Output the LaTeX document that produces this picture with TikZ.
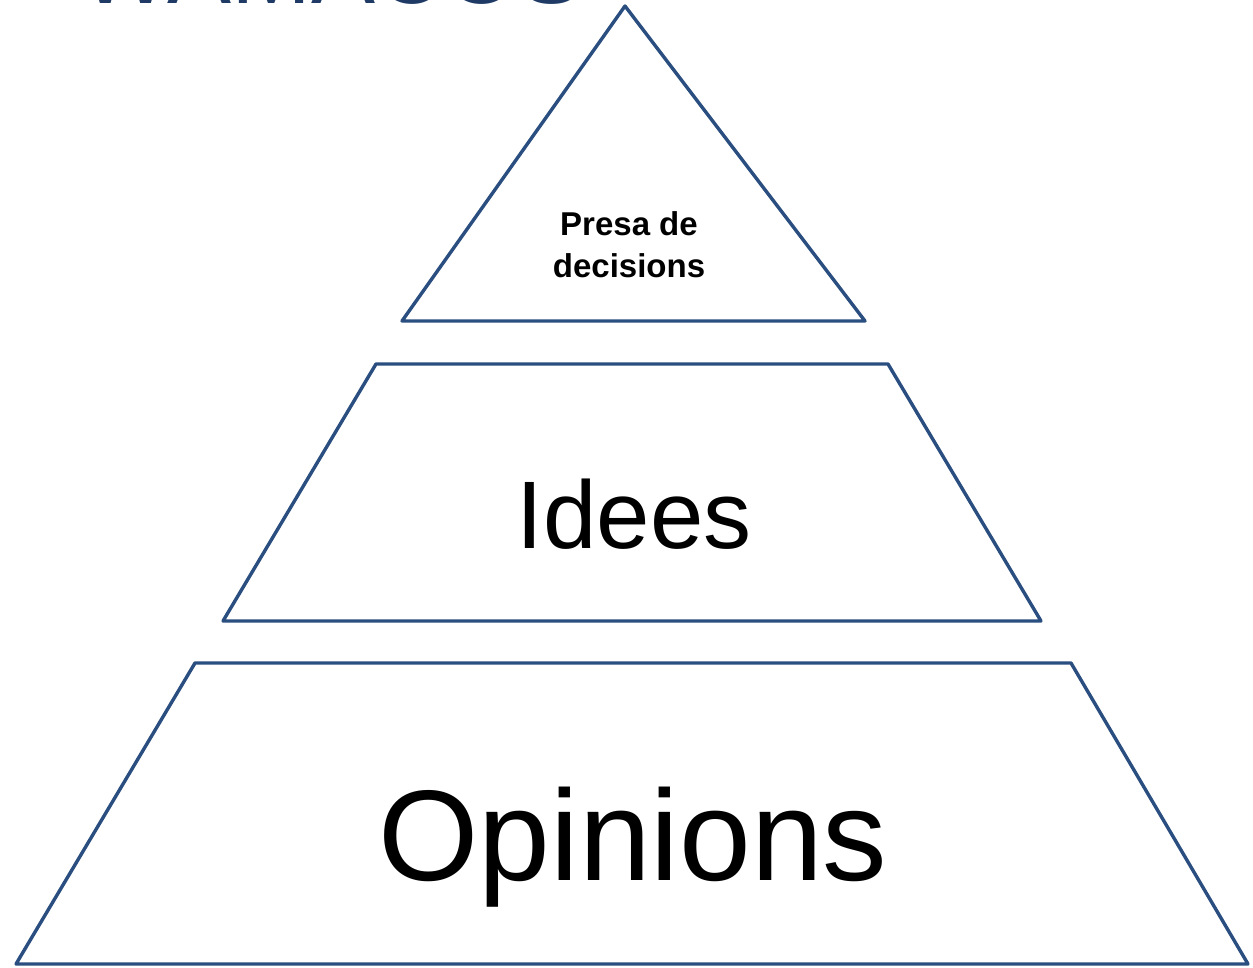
\documentclass[tikz,border=0pt]{standalone}
\usepackage{fontspec}
\setmainfont{Liberation Sans}
\definecolor{lineblue}{HTML}{2A4E7F}
\definecolor{titleblue}{HTML}{1F3A64}
\tikzset{
  level/.style={draw=lineblue, line width=3.4pt, line join=round},
  lbl/.style={anchor=base, inner sep=0pt, text=black}
}
\begin{document}
\begin{tikzpicture}[x=1pt,y=-1pt]
\useasboundingbox (0,0) rectangle (1253,967);
\begin{scope}
\clip (0,0) rectangle (1253,967);
\node[anchor=base west, inner sep=0pt, text=titleblue, font=\fontsize{96}{100}\selectfont] (title) at (80,3) {WAMACOS};
\end{scope}
% top triangle
\draw[level] (625,6) -- (865,321) -- (402,321) -- cycle;
% middle trapezoid
\draw[level] (376,364) -- (888,364) -- (1041,621) -- (223,621) -- cycle;
% bottom trapezoid
\draw[level] (195,663) -- (1071,663) -- (1248,964) -- (16,964) -- cycle;
\node[lbl, font=\bfseries\fontsize{33}{42}\selectfont] (t1) at (629,235) {Presa de};
\node[lbl, font=\bfseries\fontsize{33}{42}\selectfont] (t2) at (629,277) {decisions};
\node[lbl, font=\fontsize{96}{110}\selectfont] (mid) at (634,548) {Idees};
\node[lbl, font=\fontsize{129}{140}\selectfont] (bot) at (633,880) {Opinions};
\end{tikzpicture}
\end{document}
